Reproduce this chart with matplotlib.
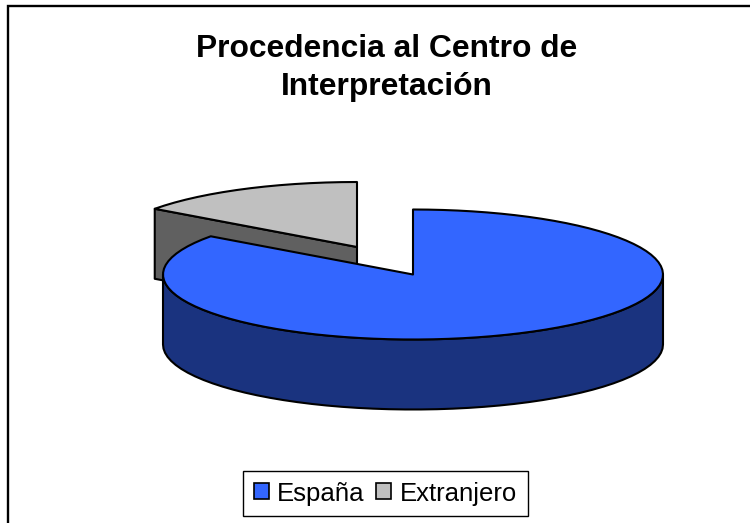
import numpy as np
import matplotlib
matplotlib.use("Agg")
import matplotlib.pyplot as plt
from matplotlib.patches import Patch, Polygon

plt.rcParams['font.family'] = ['Liberation Sans', 'DejaVu Sans']

title = "Procedencia al Centro de\nInterpretación"
categories = ["España", "Extranjero"]
values = [85, 15]
top_colors = ["#3366FF", "#C0C0C0"]
side_colors = ["#1A337F", "#606060"]
EDGE = "#000000"

W, H = 750, 523
fig = plt.figure(figsize=(W / 100, H / 100), dpi=100, facecolor="white")
ax = fig.add_axes([0, 0, 1, 1])
ax.set_xlim(0, W)
ax.set_ylim(H, 0)
ax.axis("off")

# chart-area frame: only left and top edges fall inside the crop
ax.plot([8, 8, W + 5], [H + 5, 6, 6], color="black", lw=1.7, clip_on=True,
        solid_joinstyle="miter")

RX, RY, DEPTH = 250, 65, 70
CENTERS = [(413, 274.5), (357, 247)]
LW = 1.5


def rim(center, a0, a1, n=60):
    """Points on the ellipse; angle in degrees clockwise from 12 o'clock."""
    t = np.radians(np.linspace(a0, a1, n))
    return np.column_stack([center[0] + RX * np.sin(t), center[1] - RY * np.cos(t)])


def poly(pts, fc, z):
    ax.add_patch(Polygon(pts, closed=True, facecolor=fc, edgecolor=EDGE, lw=LW,
                         joinstyle="round", zorder=z))


fractions = np.array(values, dtype=float) / sum(values)
edges = np.concatenate([[0], np.cumsum(fractions) * 360])
down = np.array([0, DEPTH])

# Exploded slice (Extranjero): cut face, then top
c = np.array(CENTERS[1])
a0, a1 = edges[1], edges[2]
corner = rim(c, a0, a0, 1)[0]
poly([c, corner, corner + down, c + down], side_colors[1], 1)
poly(np.vstack([[c], rim(c, a0, a1, 16)]), top_colors[1], 2)

# Main slice (España): front wall, then top
c = np.array(CENTERS[0])
a0, a1 = edges[0], edges[1]
front = rim(c, 90, 270, 50)
poly(np.vstack([front, (front + down)[::-1]]), side_colors[0], 3)
poly(np.vstack([[c], rim(c, a0, a1, 90)]), top_colors[0], 4)

ax.text(387, 68, title, ha="center", va="center", fontsize=22.9, fontweight="bold",
        linespacing=1.39, color="black")

handles = [Patch(facecolor=fc, edgecolor="black", lw=1.2) for fc in top_colors]
leg = ax.legend(handles, categories, loc="center", bbox_to_anchor=(385.5, 493.5),
                bbox_transform=ax.transData, ncol=2, fontsize=18.5, frameon=True,
                fancybox=False, framealpha=1, edgecolor="black", handlelength=0.58,
                handleheight=0.58, handletextpad=0.34, columnspacing=0.45,
                borderpad=0.4, borderaxespad=0)
leg.get_frame().set_linewidth(1.0)
leg.set_zorder(10)

fig.savefig("out.png", dpi=100, facecolor="white")
